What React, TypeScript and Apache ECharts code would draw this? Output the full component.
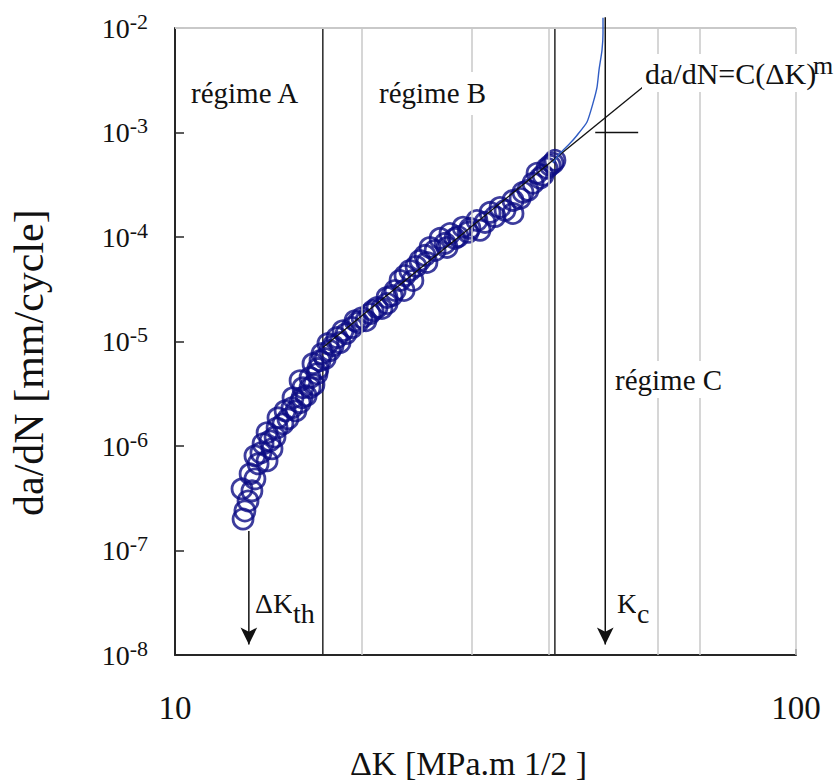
import { useEffect, useRef } from "react";
import * as echarts from "echarts";

// ---- axis / grid values ----
const xGridValues = [20, 30, 40, 60, 70, 100];
const yDecadeExponents = [-8, -7, -6, -5, -4, -3];
const yMultipliers = [1, 2, 3, 4, 5, 6, 7, 8, 9];
const yTopValue = 1e-2;

// ---- measured crack-growth data (ΔK [MPa.m^1/2], da/dN [mm/cycle]) ----
const deltaK = [
  12.87, 13.11, 12.82, 13.21, 13.45, 13.61, 14.07, 13.86, 14.22, 14.07,
  14.6, 14.65, 14.92, 15.04, 15.43, 15.49, 15.9, 16.02, 16.07, 16.5,
  16.5, 16.93, 16.68, 17.12, 17.25, 17.63, 17.77, 18.23, 18.64, 19.28,
  19.5, 20.01, 20.61, 21.15, 21.95, 21.95, 22.62, 23.03, 23.89, 24.16,
  24.8, 25.27, 25.74, 26.72, 27.42, 27.72, 28.56, 29.09, 29.85, 30.64,
  30.99, 32.16, 33.37, 34.0, 35.02, 35.02, 36.34, 37.72, 38.28, 39.14,
  39.72, 40.61, 40.91,
  12.96, 13.3, 13.45, 13.75, 14.33, 14.49, 15.2, 15.66, 15.9, 16.26,
  16.74, 16.99, 17.45, 17.97, 18.44, 18.86, 19.71, 20.3, 20.84, 21.54,
  22.36, 23.38, 23.46, 24.44, 25.45, 26.23, 27.22, 28.24, 29.64, 31.57,
  32.76, 35.94, 37.02, 38.71, 40.18,
];
const dadN = [
  2.0e-7, 2.98e-7, 3.89e-7, 5.41e-7, 8.05e-7, 6.75e-7, 7.21e-7, 1.05e-6, 1.12e-6, 1.34e-6,
  1.49e-6, 1.86e-6, 1.63e-6, 2.17e-6, 2.32e-6, 2.9e-6, 4.22e-6, 2.9e-6, 3.61e-6, 3.61e-6,
  4.51e-6, 4.92e-6, 6.14e-6, 6.56e-6, 7.66e-6, 9.55e-6, 8.18e-6, 1.09e-5, 1.27e-5, 1.36e-5,
  1.58e-5, 1.69e-5, 1.85e-5, 2.11e-5, 2.31e-5, 2.64e-5, 3.08e-5, 3.84e-5, 4.79e-5, 3.84e-5,
  5.97e-5, 6.67e-5, 7.95e-5, 9.7e-5, 7.95e-5, 1.08e-4, 1.01e-4, 1.24e-4, 1.21e-4, 1.44e-4,
  1.16e-4, 1.72e-4, 1.92e-4, 1.8e-4, 2.24e-4, 1.68e-4, 2.68e-4, 3.27e-4, 4.07e-4, 3.9e-4,
  4.55e-4, 5.08e-4, 5.42e-4,
  2.39e-7, 3.72e-7, 4.84e-7, 8.61e-7, 9.4e-7, 1.22e-6, 1.82e-6, 2.17e-6, 2.6e-6, 3.03e-6,
  3.86e-6, 5.5e-6, 6.86e-6, 9.14e-6, 9.76e-6, 1.19e-5, 1.52e-5, 1.58e-5, 1.98e-5, 2.07e-5,
  2.75e-5, 3.08e-5, 4.28e-5, 5.23e-5, 5.71e-5, 7.43e-5, 8.69e-5, 9.7e-5, 1.11e-4, 1.38e-4,
  1.57e-4, 2.34e-4, 2.8e-4, 3.65e-4, 4.85e-4,
];

// ---- Paris law fit line ----
const parisK = [17.3, 56.7];
const parisRate = [8.75e-6, 2.72e-3];

// ---- unstable growth curve (régime C) ----
const unstableK = [40.6, 41.69, 43.26, 44.41, 46.07, 47.11, 47.82, 48.17, 48.71, 48.89, 48.89];
const unstableRate = [5.1e-4, 6.33e-4, 7.89e-4, 9.42e-4, 1.26e-3, 1.91e-3, 2.72e-3, 3.96e-3, 6.15e-3, 8.95e-3, 1.25e-2];

// ---- annotations ----
const regimeBoundaries = [17.3, 40.9];
const thresholdK = 13.15;
const thresholdArrowRates = [1.54e-7, 1.26e-8];
const criticalK = 49.3;
const criticalArrowRates = [1.27e-2, 1.26e-8];
const kcTickK = [47.5, 55.7];
const kcTickRate = 1e-3;

const FONT = "Liberation Serif";

export default function App() {
  const ref = useRef<HTMLDivElement>(null);

  useEffect(() => {
    document.body.style.margin = "0";
    if (!ref.current) return;
    const chart = echarts.init(ref.current, null, { renderer: "svg" });

    const yGridValues: number[] = [];
    yDecadeExponents.forEach((e) => {
      yMultipliers.forEach((m) => {
        if (!(e === -8 && m === 1)) yGridValues.push(m * Math.pow(10, e));
      });
    });
    yGridValues.push(yTopValue);

    const dark = "#262626";
    const gridColor = "#c8c8c8";

    const lineSeg = (pts: number[][], color: string, width: number, z: number, extra: any = {}) => ({
      type: "line",
      data: pts,
      symbol: "none",
      silent: true,
      z,
      lineStyle: { color, width },
      itemStyle: { color },
      ...extra,
    });

    const arrowSeries = (k: number, rates: number[]) => ({
      type: "line",
      silent: true,
      clip: false,
      z: 6,
      symbol: "none",
      showSymbol: true,
      lineStyle: { color: "#111", width: 1.5 },
      itemStyle: { color: "#111" },
      data: [
        { value: [k, rates[0]], symbol: "none" },
        { value: [k, rates[1]], symbol: "arrow", symbolSize: [12.5, 17], symbolRotate: 180 },
      ],
    });

    const txt = (text: string, x: number, y: number, size: number, extra: any = {}) => ({
      type: "text",
      x,
      y,
      z: 20,
      style: { text, fontSize: size, fontFamily: FONT, fill: "#111", ...extra },
    });

    const option: any = {
      animation: false,
      grid: { left: 175, top: 28, width: 621, height: 627 },
      xAxis: {
        type: "log",
        logBase: 10,
        min: 10,
        max: 100,
        axisLine: { show: true, lineStyle: { color: dark, width: 2 } },
        axisTick: { show: true, inside: true, length: 6, lineStyle: { color: dark, width: 1.5 } },
        axisLabel: { fontSize: 33, fontFamily: FONT, color: "#111", margin: 36 },
        splitLine: { show: false },
      },
      yAxis: {
        type: "log",
        logBase: 10,
        min: 1e-8,
        max: 1e-2,
        axisLine: { show: true, lineStyle: { color: dark, width: 2 } },
        axisTick: { show: true, inside: true, length: 9, lineStyle: { color: dark, width: 1.5 } },
        axisLabel: {
          margin: 27,
          color: "#111",
          fontFamily: FONT,
          formatter: (v: number) => `{b|10}{s|${Math.round(Math.log10(v))}}`,
          rich: {
            b: { fontSize: 28, fontFamily: FONT, color: "#111", lineHeight: 36 },
            s: { fontSize: 22, fontFamily: FONT, color: "#111", lineHeight: 16, verticalAlign: "top" },
          },
        },
        splitLine: { show: false },
      },
      series: [
        {
          type: "line",
          data: [],
          silent: true,
          z: 1,
          markLine: {
            silent: true,
            symbol: "none",
            animation: false,
            label: { show: false },
            lineStyle: { color: gridColor, width: 1.5, type: "solid" },
            emphasis: { disabled: true },
            data: [
              ...xGridValues.map((v) => ({ xAxis: v })),
              ...yGridValues.map((v) => ({ yAxis: v })),
            ],
          },
        },
        ...regimeBoundaries.map((k) => lineSeg([[k, 1e-8], [k, yTopValue]], dark, 1.5, 3)),
        {
          type: "scatter",
          data: deltaK.map((k, i) => [k, dadN[i]]),
          symbol: "circle",
          symbolSize: 20,
          silent: true,
          z: 4,
          itemStyle: { color: "rgba(0,0,0,0)", borderColor: "#0c0c84", borderWidth: 2.8 },
        },
        lineSeg(parisK.map((k, i) => [k, parisRate[i]]), "#111", 1.3, 5),
        lineSeg(unstableK.map((k, i) => [k, unstableRate[i]]), "#2f5cc4", 1.4, 5, { clip: false, smooth: 0.2 }),
        lineSeg(kcTickK.map((k) => [k, kcTickRate]), "#111", 1.5, 5),
        arrowSeries(thresholdK, thresholdArrowRates),
        arrowSeries(criticalK, criticalArrowRates),
      ],
      graphic: [
        {
          type: "text",
          x: 8,
          y: 516,
          rotation: Math.PI / 2,
          z: 20,
          style: { text: "da/dN [mm/cycle]", fontSize: 42, fontFamily: FONT, fill: "#111" },
        },
        txt("ΔK [MPa.m 1/2 ]", 350, 746, 34),
        txt("régime A", 188, 72, 29, { backgroundColor: "#fff", padding: [6, 12, 8, 3] }),
        txt("régime B", 376, 72, 29, { backgroundColor: "#fff", padding: [6, 12, 8, 3] }),
        txt("régime C", 612, 361, 29, { backgroundColor: "#fff", padding: [4, 10, 4, 3] }),
        txt("da/dN=C(ΔK)", 642, 54, 30, { backgroundColor: "#fff", padding: [4, 3, 4, 3] }),
        txt("m", 812, 50, 26, { padding: [2, 2, 2, 1] }),
        txt("ΔK", 253, 587, 28, { backgroundColor: "#fff", padding: [2, 1, 2, 2] }),
        txt("th", 292, 598, 28, { backgroundColor: "#fff", padding: [1, 2, 1, 1] }),
        txt("K", 615, 587, 28, { backgroundColor: "#fff", padding: [2, 1, 2, 2] }),
        txt("c", 636, 598, 28, { backgroundColor: "#fff", padding: [1, 2, 1, 1] }),
      ],
    };

    chart.setOption(option);
    return () => chart.dispose();
  }, []);

  return <div ref={ref} style={{ width: 839, height: 780 }} />;
}
